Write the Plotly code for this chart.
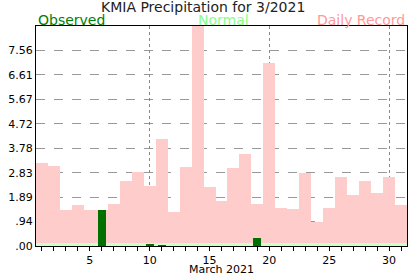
import plotly.graph_objects as go

days = list(range(1, 32))
record = [3.19, 3.11, 1.40, 1.60, 1.40, 1.40, 1.61, 2.53, 2.88, 2.33,
          4.12, 1.32, 3.07, 8.60, 2.30, 1.75, 3.00, 3.54, 1.61, 7.08,
          1.48, 1.44, 2.84, 0.93, 1.48, 2.68, 1.98, 2.53, 2.06, 2.68, 1.60]
normal = [0.10] * 30 + [0.13]
observed = [0, 0, 0, 0, 0, 1.40, 0, 0, 0, 0.08,
            0.03, 0, 0, 0, 0, 0, 0, 0, 0.31, 0,
            0, 0, 0, 0, 0, 0, 0, 0, 0, 0, 0]
ytick_vals = [0, 0.945, 1.89, 2.835, 3.78, 4.725, 5.67, 6.615, 7.56]
ytick_text = [".00", ".94", "1.89", "2.83", "3.78", "4.72", "5.67", "6.61", "7.56"]
xtick_vals = [5, 10, 15, 20, 25, 30]
xgrid_vals = [10, 20, 30]

FONT = "DejaVu Sans"

fig = go.Figure()
fig.add_trace(go.Bar(x=days, y=record, width=1.0, marker=dict(color="#ffcccc", line=dict(width=0)),
                     hoverinfo="skip"))
fig.add_trace(go.Bar(x=days, y=normal, width=1.0, marker=dict(color="#ccffcc", line=dict(width=0)),
                     hoverinfo="skip"))
fig.add_trace(go.Bar(x=days, y=observed, width=0.66, marker=dict(color="#007000", line=dict(width=0)),
                     hoverinfo="skip"))
# invisible trace for the secondary x axis that carries the dotted gridlines
fig.add_trace(go.Scatter(x=[days[0]], y=[0], xaxis="x2", mode="markers",
                         marker=dict(opacity=0), hoverinfo="skip"))

fig.update_layout(
    width=417, height=276,
    margin=dict(l=36, r=10, t=26, b=30, autoexpand=False),
    paper_bgcolor="white", plot_bgcolor="white",
    barmode="overlay", bargap=0, showlegend=False,
    font=dict(family=FONT, size=11, color="black"),
    xaxis=dict(
        range=[0.5, 31.5], tickmode="array", tickvals=xtick_vals,
        ticks="outside", ticklen=4, tickcolor="black", tickwidth=1,
        minor=dict(tickmode="linear", tick0=1, dtick=1, ticks="outside", ticklen=4,
                   tickcolor="black", showgrid=False),
        showgrid=False, zeroline=False, automargin=False,
        showline=True, linecolor="black", linewidth=1, mirror=True,
        title=dict(text="March 2021", font=dict(size=11), standoff=4),
        tickfont=dict(size=11),
    ),
    xaxis2=dict(
        range=[0.5, 31.5], overlaying="x", tickmode="array", tickvals=xgrid_vals,
        showticklabels=False, ticks="", showgrid=True, gridcolor="#888888",
        griddash="dot", gridwidth=1, zeroline=False, showline=False, automargin=False,
    ),
    yaxis=dict(
        range=[0, 8.505], tickmode="array", tickvals=ytick_vals, ticktext=ytick_text,
        ticks="", showgrid=True, gridcolor="#999999", griddash="dash", gridwidth=1,
        zeroline=False, showline=True, linecolor="black", linewidth=1, mirror=True,
        tickfont=dict(size=11), automargin=False,
    ),
    annotations=[
        dict(text="KMIA Precipitation for 3/2021", xref="paper", yref="paper",
             x=0.45, y=1, yshift=19, xanchor="center", yanchor="middle",
             showarrow=False, font=dict(size=14, color="#222222")),
        dict(text="Observed", xref="paper", yref="paper", x=0, y=1, yshift=6,
             xanchor="left", yanchor="middle", showarrow=False,
             font=dict(size=14, color="#008000")),
        dict(text="Normal", xref="paper", yref="paper", x=0.505, y=1, yshift=6,
             xanchor="center", yanchor="middle", showarrow=False,
             font=dict(size=14, color="#88ff88")),
        dict(text="Daily Record", xref="paper", yref="paper", x=1, y=1, yshift=6,
             xanchor="right", yanchor="middle", showarrow=False,
             font=dict(size=14, color="#ff9999")),
    ],
)

fig.write_html("out.html")
